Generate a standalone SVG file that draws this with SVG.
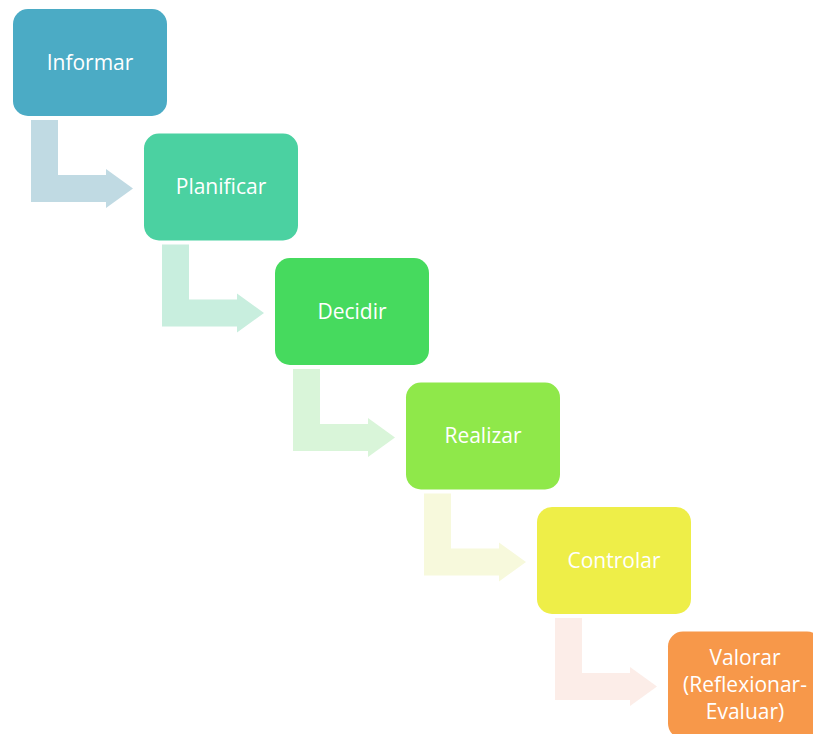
<svg xmlns="http://www.w3.org/2000/svg" width="813" height="734" viewBox="0 0 813 734">
<defs>
<style>
.box{stroke:none}
.t{font-family:"Open Sans","Liberation Sans",sans-serif;font-size:21px;fill:#fff;text-anchor:middle}
</style>
<polygon id="arr" points="31,120 58,120 58,175 106,175 106,169 133,188.5 106,208 106,202 31,202"/>
</defs>
<g id="connectors">
<use href="#arr" fill="#C0DAE3"/>
<use href="#arr" fill="#C8EEDE" transform="translate(131,124.5)"/>
<use href="#arr" fill="#D9F5D9" transform="translate(262,249)"/>
<use href="#arr" fill="#F7F9DC" transform="translate(393,373.5)"/>
<use href="#arr" fill="#FCEDE8" transform="translate(524,498)"/>
</g>
<g id="informar">
<rect class="box" x="13" y="9" width="154" height="107" rx="15" fill="#4BABC5"/>
<text class="t" x="90" y="69.5">Informar</text>
</g>
<g id="planificar">
<rect class="box" x="144" y="133.5" width="154" height="107" rx="15" fill="#4BD1A1"/>
<text class="t" x="221" y="194">Planificar</text>
</g>
<g id="decidir">
<rect class="box" x="275" y="258" width="154" height="107" rx="15" fill="#46DA5E"/>
<text class="t" x="352" y="318.5">Decidir</text>
</g>
<g id="realizar">
<rect class="box" x="406" y="382.5" width="154" height="107" rx="15" fill="#8FE84A"/>
<text class="t" x="483" y="443">Realizar</text>
</g>
<g id="controlar">
<rect class="box" x="537" y="507" width="154" height="107" rx="15" fill="#EEEE48"/>
<text class="t" x="614" y="567.5">Controlar</text>
</g>
<g id="valorar">
<rect class="box" x="668" y="631.5" width="154" height="107" rx="15" fill="#F7984A"/>
<text class="t" x="745" y="664.5">Valorar</text>
<text class="t" x="745" y="691.5">(Reflexionar-</text>
<text class="t" x="745" y="718.5">Evaluar)</text>
</g>
</svg>
